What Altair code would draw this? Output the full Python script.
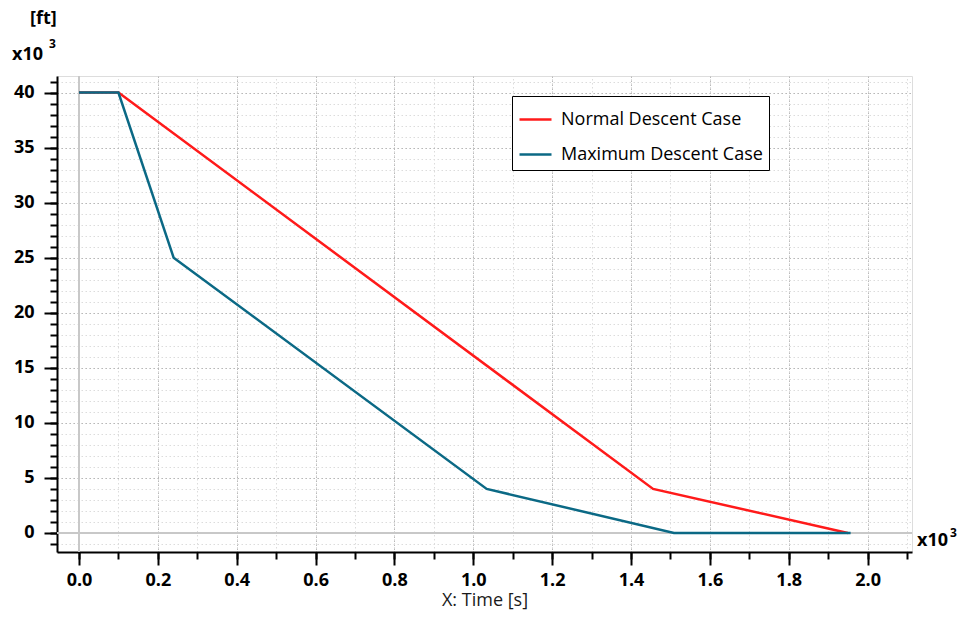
import altair as alt
import pandas as pd

# ---- data (time in 10^3 s, altitude in 10^3 ft) ----
normal_time = [0.0, 0.10, 1.456, 1.950]
normal_alt = [40.0, 40.0, 4.0, 0.0]
max_time = [0.0, 0.10, 0.240, 1.034, 1.509, 1.957]
max_alt = [40.0, 40.0, 25.0, 4.0, 0.0, 0.0]

series_names = ["Normal Descent Case", "Maximum Descent Case"]
series_colors = ["#ff1a1a", "#0b6985"]

x_major = [round(0.2 * i, 1) for i in range(11)]
x_minor = [round(0.1 * i, 1) for i in range(22)]
y_major = [5 * i for i in range(9)]
y_minor = [i for i in range(-1, 42)]

x_domain = [-0.0558, 2.1127]
y_domain = [-1.73, 41.5]

rows = []
for i, (t, a) in enumerate(zip(normal_time, normal_alt)):
    rows.append({"series": series_names[0], "t": t, "alt": a, "o": i})
for i, (t, a) in enumerate(zip(max_time, max_alt)):
    rows.append({"series": series_names[1], "t": t, "alt": a, "o": i})
df = pd.DataFrame(rows)

FONT = "Open Sans"
W, H = 855, 476

xs = alt.Scale(domain=x_domain, nice=False, zero=False)
ys = alt.Scale(domain=y_domain, nice=False, zero=False)

# minor ticks + grid layer (also holds the zero lines)
zero_df = pd.DataFrame({"v": [0.0]})
minor_x = alt.Axis(orient="bottom", values=x_minor, labels=False, tickSize=7, tickWidth=2,
                   tickColor="black", domain=False, grid=True, gridColor="#dcdcdc",
                   gridDash=[1.5, 2.5], gridWidth=1, title=None, zindex=0)
minor_y = alt.Axis(orient="left", values=y_minor, labels=False, tickSize=7, tickWidth=2,
                   tickColor="black", domain=False, grid=True, gridColor="#dcdcdc",
                   gridDash=[1.5, 2.5], gridWidth=1, title=None, zindex=0)

vrule = alt.Chart(zero_df).mark_rule(color="#c8c8c8", strokeWidth=2).encode(
    x=alt.X("v:Q", scale=xs, axis=minor_x)
)
hrule = alt.Chart(zero_df).mark_rule(color="#c8c8c8", strokeWidth=2).encode(
    y=alt.Y("v:Q", scale=ys, axis=minor_y)
)

major_x = alt.Axis(orient="bottom", values=x_major, format=".1f", tickSize=13, tickWidth=2,
                   tickColor="black", domain=True, domainColor="black", domainWidth=2,
                   grid=True, gridColor="#b8b8b8", gridDash=[1.5, 2.5], gridWidth=1,
                   labelFont=FONT, labelFontSize=18, labelFontWeight="bold",
                   labelColor="black", labelPadding=6,
                   title="X: Time [s]", titleFont=FONT, titleFontSize=18,
                   titleFontWeight="normal", titleColor="#1a1a1a",
                   titleBaseline="alphabetic", titleY=53,
                   zindex=0)
major_y = alt.Axis(orient="left", values=y_major, tickSize=13, tickWidth=2,
                   tickColor="black", domain=True, domainColor="black", domainWidth=2,
                   grid=True, gridColor="#b8b8b8", gridDash=[1.5, 2.5], gridWidth=1,
                   labelFont=FONT, labelFontSize=18, labelFontWeight="bold",
                   labelColor="black", labelPadding=10, title=None, zindex=0)

lines = alt.Chart(df).mark_line(strokeWidth=2.5).encode(
    x=alt.X("t:Q", scale=xs, axis=major_x),
    y=alt.Y("alt:Q", scale=ys, axis=major_y),
    color=alt.Color("series:N",
                    scale=alt.Scale(domain=series_names, range=series_colors),
                    sort=series_names,
                    legend=alt.Legend(orient="none", legendX=455, legendY=20, title=None,
                                      strokeColor="black", fillColor="white", padding=6,
                                      symbolType="stroke", symbolSize=1024,
                                      symbolStrokeWidth=2.5, labelFont=FONT,
                                      labelFontSize=18, labelColor="black",
                                      labelOffset=8, rowPadding=8, labelLimit=400)),
    order="o:Q",
)

txt_big = dict(font=FONT, fontSize=18, fontWeight="bold", color="black", align="left",
               baseline="alphabetic")
txt_sup = dict(font=FONT, fontSize=12, fontWeight="bold", color="black", align="left",
               baseline="alphabetic")
one = pd.DataFrame({"k": [0]})
ft_label = alt.Chart(one).mark_text(text="[ft]", **txt_big).encode(
    x=alt.value(-27), y=alt.value(-52))
y_mult = alt.Chart(one).mark_text(text="x10", **txt_big).encode(
    x=alt.value(-45), y=alt.value(-16))
y_sup = alt.Chart(one).mark_text(text="3", **txt_sup).encode(
    x=alt.value(-8), y=alt.value(-28))
x_mult = alt.Chart(one).mark_text(text="x10", **txt_big).encode(
    x=alt.value(860), y=alt.value(470))
x_sup = alt.Chart(one).mark_text(text="3", **txt_sup).encode(
    x=alt.value(893), y=alt.value(461))

chart = alt.layer(vrule, hrule, lines, ft_label, y_mult, y_sup, x_mult, x_sup).resolve_axis(
    x="independent", y="independent"
).properties(
    width=W, height=H,
    autosize=alt.AutoSizeParams(type="none"),
    padding={"left": 49, "top": 68, "right": 45, "bottom": 58},
).configure_view(
    stroke="#c4c4c4", strokeWidth=2
).configure(background="white")

chart.save("out.html", embed_options={"renderer": "svg", "actions": False})
